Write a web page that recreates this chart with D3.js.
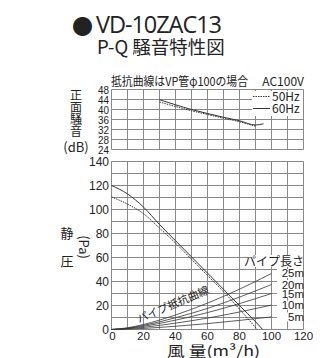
<html>
<head>
    <title>VD-10ZAC13 P-Q</title>
    <style>
        body {
            margin: 0;
            background: #fff;
        }

        svg text {
            fill: #222;
        }
    </style>
</head>

<body>
    <script src="https://d3js.org/d3.v7.min.js"></script>
    <script>
        // top chart: front noise (dB) vs flow
        var noiseQ60 = [30, 40, 50, 60, 70, 80, 90, 95];
        var noise60 = [43.9, 41.9, 40.0, 38.4, 36.9, 35.5, 33.8, 34.3];
        var noiseQ50 = [30, 40, 50, 60, 70, 80, 90];
        var noise50 = [43.0, 41.2, 39.5, 38.0, 36.5, 35.1, 33.3];

        // bottom chart: static pressure (Pa) vs flow
        var pqQ60 = [0, 10, 20, 30, 40, 50, 60, 70, 80, 90, 94.5];
        var pq60 = [120, 113, 102, 87.5, 74, 60.5, 47, 33.5, 20, 6.5, 0];
        var pqQ50 = [0, 10, 20, 30, 40, 50, 60, 70, 80, 91];
        var pq50 = [110.5, 104.5, 96.5, 84.5, 72, 58.5, 45, 31.5, 17, 0];

        // pipe resistance curves
        var pipeQ = [0, 10, 20, 40, 60, 80, 100];
        var pipeLengths = ['25m', '20m', '15m', '10m', '5m'];
        var pipe25 = [0, 1.4, 4.2, 12.1, 22.0, 33.6, 46.7];
        var pipe20 = [0, 1.1, 3.4, 9.8, 17.6, 27.0, 37.5];
        var pipe15 = [0, 0.9, 2.7, 7.8, 14.1, 21.6, 30.0];
        var pipe10 = [0, 0.6, 1.8, 5.3, 9.5, 14.6, 20.3];
        var pipe5 = [0, 0.3, 0.9, 2.7, 4.9, 7.6, 10.5];

        var xTicks = [0, 20, 40, 60, 80, 100, 120];
        var pTicks = [0, 20, 40, 60, 80, 100, 120, 140];
        var dbTicks = [24, 28, 32, 36, 40, 44, 48];

        var w = 320,
            h = 358;
        var jp = '"Noto Sans CJK JP", "Noto Sans", sans-serif';
        var num = '"Liberation Sans", Arial, sans-serif';
        var gridCol = '#888';
        var lineCol = '#333';

        var svg = d3.select('body').append('svg')
            .attr('width', w).attr('height', h)
            .style('display', 'block');

        var x = d3.scaleLinear().domain([0, 120]).range([111.5, 303.5]);
        var yP = d3.scaleLinear().domain([0, 140]).range([329.5, 161.5]);
        var yN = d3.scaleLinear().domain([24, 48]).range([149.5, 89.5]);

        function zip(a, b) {
            return a.map(function (v, i) { return [v, b[i]]; });
        }

        // ---- title
        svg.append('text').attr('x', 72).attr('y', 34)
            .style('font-family', jp).style('font-size', '21px').text('●');
        svg.append('text').attr('x', 96).attr('y', 32.5)
            .style('font-family', '"Open Sans", sans-serif').style('font-size', '23.5px')
            .attr('textLength', 126).text('VD-10ZAC13');
        svg.append('text').attr('x', 97).attr('y', 54)
            .style('font-family', jp).style('font-size', '18.5px')
            .text('P-Q 騒音特性図');

        // ---- grids
        function grid(g, y, yDomain, yStep) {
            var xs = d3.range(0, 121, 10);
            g.selectAll('line.v').data(xs).enter().append('line')
                .attr('x1', function (d) { return x(d); })
                .attr('x2', function (d) { return x(d); })
                .attr('y1', y(yDomain[0])).attr('y2', y(yDomain[1]))
                .attr('stroke', gridCol).attr('stroke-width', 1);
            var ys = d3.range(yDomain[0], yDomain[1] + 0.01, yStep);
            g.selectAll('line.h').data(ys).enter().append('line')
                .attr('x1', x(0)).attr('x2', x(120))
                .attr('y1', function (d) { return y(d); })
                .attr('y2', function (d) { return y(d); })
                .attr('stroke', gridCol).attr('stroke-width', 1);
        }

        var gTop = svg.append('g');
        grid(gTop, yN, [24, 48], 4);
        var gBot = svg.append('g');
        grid(gBot, yP, [0, 140], 10);

        // ---- top chart texts
        svg.append('text').attr('x', 111).attr('y', 86)
            .style('font-family', jp).style('font-size', '12px')
            .attr('textLength', 137).attr('lengthAdjust', 'spacingAndGlyphs')
            .text('抵抗曲線はVP管φ100の場合');
        svg.append('text').attr('x', 304).attr('y', 86).attr('text-anchor', 'end')
            .style('font-family', jp).style('font-size', '12px')
            .text('AC100V');

        gTop.selectAll('text.tick').data(dbTicks).enter().append('text')
            .attr('x', 109).attr('y', function (d) { return yN(d) + 4; })
            .attr('text-anchor', 'end')
            .style('font-family', num).style('font-size', '11px')
            .attr('textLength', 11).attr('lengthAdjust', 'spacingAndGlyphs')
            .text(function (d) { return d; });

        // vertical axis title, one text in vertical writing
        svg.append('text').attr('x', 76).attr('y', 89)
            .style('writing-mode', 'vertical-rl')
            .style('font-family', jp).style('font-size', '12px')
            .text('正面騒音');
        svg.append('text').attr('x', 76).attr('y', 152).attr('text-anchor', 'middle')
            .style('font-family', jp).style('font-size', '13px').text('(dB)');

        // legend
        svg.append('rect').attr('x', 252).attr('y', 91).attr('width', 51).attr('height', 25)
            .attr('fill', '#fff');
        svg.append('line').attr('x1', 253).attr('x2', 270).attr('y1', 96.5).attr('y2', 96.5)
            .attr('stroke', lineCol).attr('stroke-dasharray', '1.5,1');
        svg.append('line').attr('x1', 253).attr('x2', 270).attr('y1', 108.5).attr('y2', 108.5)
            .attr('stroke', lineCol);
        svg.append('text').attr('x', 272).attr('y', 101)
            .style('font-family', jp).style('font-size', '12px').text('50Hz');
        svg.append('text').attr('x', 272).attr('y', 113)
            .style('font-family', jp).style('font-size', '12px').text('60Hz');

        var lineN = d3.line().x(function (d) { return x(d[0]); }).y(function (d) { return yN(d[1]); })
            .curve(d3.curveMonotoneX);
        gTop.append('path').attr('d', lineN(zip(noiseQ50, noise50)))
            .attr('fill', 'none').attr('stroke', lineCol).attr('stroke-width', 1)
            .attr('stroke-dasharray', '1.5,1');
        gTop.append('path').attr('d', lineN(zip(noiseQ60, noise60)))
            .attr('fill', 'none').attr('stroke', lineCol).attr('stroke-width', 1);

        // ---- bottom chart
        gBot.selectAll('text.ytick').data(pTicks).enter().append('text')
            .attr('x', 109).attr('y', function (d) { return yP(d) + 4.5; })
            .attr('text-anchor', 'end')
            .style('font-family', num).style('font-size', '12px')
            .text(function (d) { return d; });
        gBot.selectAll('text.xtick').data(xTicks).enter().append('text')
            .attr('x', function (d) { return x(d) + (d === 0 ? 1 : 0); }).attr('y', 339.5)
            .attr('text-anchor', 'middle')
            .style('font-family', num).style('font-size', '11.5px')
            .text(function (d) { return d; });

        svg.append('text').attr('x', 67).attr('y', 238).attr('text-anchor', 'middle')
            .style('font-family', jp).style('font-size', '13px').text('静');
        svg.append('text').attr('x', 67).attr('y', 266).attr('text-anchor', 'middle')
            .style('font-family', jp).style('font-size', '13px').text('圧');
        svg.append('text').attr('transform', 'translate(79,247) rotate(90)')
            .attr('text-anchor', 'middle')
            .style('font-family', jp).style('font-size', '13px').text('(Pa)');

        svg.append('text').attr('x', 167).attr('y', 355.5)
            .style('font-family', jp).style('font-size', '14px')
            .attr('textLength', 93).attr('lengthAdjust', 'spacingAndGlyphs')
            .text('風 量(m³/h)');

        var lineP = d3.line().x(function (d) { return x(d[0]); }).y(function (d) { return yP(d[1]); })
            .curve(d3.curveMonotoneX);

        // pipe resistance
        var pipes = [pipe25, pipe20, pipe15, pipe10, pipe5];
        gBot.selectAll('path.pipe').data(pipes).enter().append('path')
            .attr('d', function (d) { return lineP(zip(pipeQ, d)); })
            .attr('fill', 'none').attr('stroke', lineCol).attr('stroke-width', 0.8);

        gBot.append('text')
            .attr('transform', 'translate(139,323) rotate(-23)')
            .style('font-family', jp).style('font-size', '11px')
            .text('パイプ抵抗曲線');

        // P-Q curves
        gBot.append('path').attr('d', lineP(zip(pqQ50, pq50)))
            .attr('fill', 'none').attr('stroke', lineCol).attr('stroke-width', 1)
            .attr('stroke-dasharray', '1.5,1');
        gBot.append('path').attr('d', lineP(zip(pqQ60, pq60)))
            .attr('fill', 'none').attr('stroke', lineCol).attr('stroke-width', 1);

        // pipe length labels
        gBot.append('rect').attr('x', 252).attr('y', 255).attr('width', 51).attr('height', 12)
            .attr('fill', '#fff');
        gBot.append('text').attr('x', 304).attr('y', 266).attr('text-anchor', 'end')
            .style('font-family', jp).style('font-size', '12px').text('パイプ長さ');
        gBot.selectAll('rect.pl').data(pipes).enter().append('rect')
            .attr('x', 277).attr('width', 26).attr('height', 9)
            .attr('y', function (d) { return yP(d[d.length - 1]) - 4.5; })
            .attr('fill', '#fff');
        gBot.selectAll('text.pl').data(pipes).enter().append('text')
            .attr('x', 304).attr('text-anchor', 'end')
            .attr('y', function (d) { return yP(d[d.length - 1]) + 4; })
            .style('font-family', num).style('font-size', '11.5px')
            .text(function (d, i) { return pipeLengths[i]; });
    </script>
</body>

</html>
